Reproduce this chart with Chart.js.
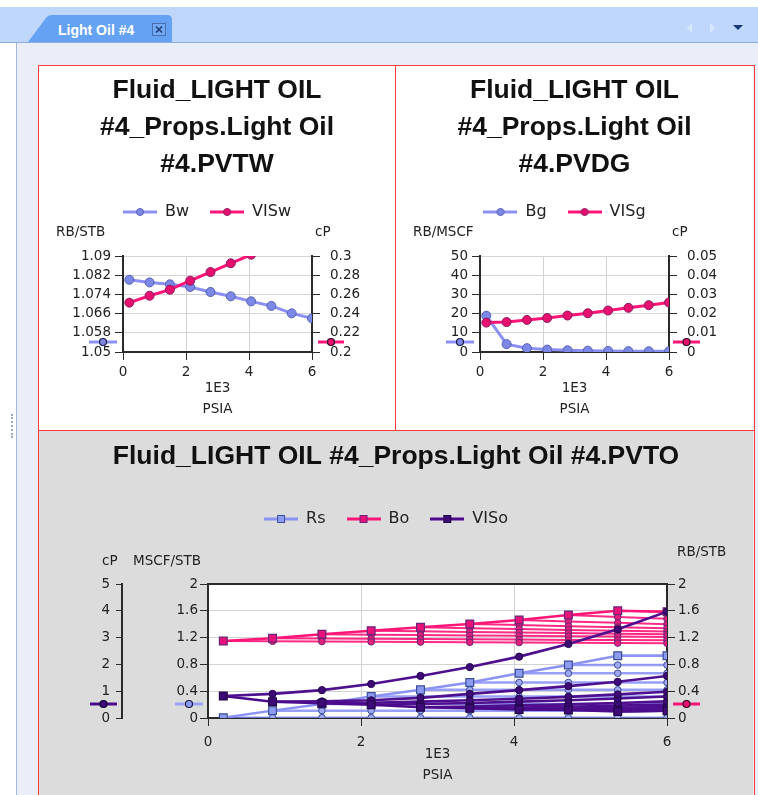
<!DOCTYPE html>
<html>
<head>
<meta charset="utf-8">
<title>Light Oil #4</title>
<script src="https://cdn.jsdelivr.net/npm/chart.js@4.4.1/dist/chart.umd.min.js"></script>
<style>
  html, body { margin: 0; padding: 0; }
  body { width: 758px; height: 795px; position: relative; overflow: hidden; background: #fff; font-family: "DejaVu Sans", sans-serif; }
  .abs { position: absolute; }
  #tabbar { left: 0; top: 7px; width: 758px; height: 35px; background: #bed7fb; border-bottom: 1px solid #8daee2; }
  #panel { left: 16px; top: 43px; width: 742px; height: 752px; background: #e9eef9; border-left: 1px solid #a6b8d8; }
  #grip { left: 11px; top: 414px; width: 0; height: 24px; border-left: 2px dotted #9aa8c0; }
  #frame { left: 38px; top: 65px; width: 715px; height: 740px; border: 1px solid #ff3b3b; }
  #vsep { left: 395px; top: 66px; width: 1px; height: 364px; background: #ff3b3b; }
  #hsep { left: 39px; top: 430px; width: 715px; height: 1px; background: #ff3b3b; }
  canvas { position: absolute; }
</style>
</head>
<body>
<div id="tabbar" class="abs"></div>
<svg class="abs" style="left:0;top:0" width="758" height="43">
  <path d="M28 42 L46 18 Q48 15 52 15 L167 15 Q172 15 172 20 L172 42 Z" fill="#66a2f4"/>
  <text x="58" y="35" font-family="Liberation Sans" font-weight="bold" font-size="14" fill="#fff">Light Oil #4</text>
  <rect x="152.5" y="23.5" width="13" height="12" fill="#73a9f4" stroke="#4a6fae"/>
  <path d="M156 26.5 L162 32.5 M162 26.5 L156 32.5" stroke="#1f3d75" stroke-width="1.6"/>
  <path d="M692 23 L687 28 L692 33 Z" fill="#d9e7fc"/>
  <path d="M710 23 L715 28 L710 33 Z" fill="#d9e7fc"/>
  <path d="M733 25 L743 25 L738 30 Z" fill="#17397a"/>
</svg>
<div id="panel" class="abs"></div>
<div id="grip" class="abs"></div>
<div id="frame" class="abs"></div>
<canvas id="pvtw" width="356" height="364" style="left:39px;top:66px;background:#fff"></canvas>
<div id="vsep" class="abs"></div>
<canvas id="pvdg" width="357" height="364" style="left:396px;top:66px;background:#fff"></canvas>
<div id="hsep" class="abs"></div>
<canvas id="pvto" width="714" height="364" style="left:39px;top:431px;background:#dcdcdc"></canvas>

<script>
// pressure, 1E3 PSIA
const pressure = [0.2, 0.844, 1.489, 2.133, 2.778, 3.422, 4.067, 4.711, 5.356, 6.0];
const xTicks = [0, 2, 4, 6];

// PVTW
const bw = [1.0801, 1.0790, 1.0782, 1.0771, 1.0750, 1.0732, 1.0711, 1.0692, 1.0661, 1.0640];
const visw = [0.2514, 0.2586, 0.2649, 0.2743, 0.2833, 0.2924, 0.3014, 0.3110, 0.3210, 0.3315];
const bwTicks = [1.05, 1.058, 1.066, 1.074, 1.082, 1.09];
const viswTicks = [0.2, 0.22, 0.24, 0.26, 0.28, 0.3];

// PVDG
const bg = [18.9, 4.1, 2.0, 1.25, 0.9, 0.7, 0.55, 0.45, 0.38, 0.33];
const visg = [0.0153, 0.0156, 0.0167, 0.0177, 0.0190, 0.0202, 0.0216, 0.0230, 0.0244, 0.0258];
const bgTicks = [0, 10, 20, 30, 40, 50];
const visgTicks = [0, 0.01, 0.02, 0.03, 0.04, 0.05];

// PVTO saturated curves (one point per pressure)
const rsSat = [0.005, 0.11, 0.21, 0.32, 0.42, 0.53, 0.667, 0.79, 0.93, 0.93];
const boSat = [1.149, 1.19, 1.249, 1.303, 1.354, 1.403, 1.463, 1.537, 1.60, 1.587];
const visoSat = [0.82, 0.61, 0.55, 0.49, 0.40, 0.36, 0.32, 0.30, 0.24, 0.27];

// PVTO undersaturated branches, branch i starts at pressure[i]
const rsUnder = [
  [0.005, 0.005, 0.005, 0.005, 0.005, 0.005, 0.005, 0.005, 0.005, 0.005],
  [0.11, 0.11, 0.11, 0.11, 0.11, 0.11, 0.11, 0.11, 0.11],
  [0.21, 0.21, 0.21, 0.21, 0.21, 0.21, 0.21, 0.21],
  [0.32, 0.32, 0.32, 0.32, 0.32, 0.32, 0.32],
  [0.42, 0.42, 0.42, 0.42, 0.42, 0.42],
  [0.53, 0.53, 0.53, 0.53, 0.53],
  [0.667, 0.667, 0.667, 0.667],
  [0.79, 0.79, 0.79],
  [0.93, 0.93]
];
const boUnder = [
  [1.149, 1.145, 1.141, 1.137, 1.133, 1.129, 1.126, 1.122, 1.118, 1.115],
  [1.190, 1.186, 1.182, 1.178, 1.174, 1.170, 1.166, 1.163, 1.160],
  [1.249, 1.243, 1.238, 1.232, 1.226, 1.221, 1.215, 1.210],
  [1.303, 1.294, 1.285, 1.276, 1.267, 1.258, 1.250],
  [1.354, 1.341, 1.328, 1.315, 1.302, 1.290],
  [1.403, 1.387, 1.371, 1.356, 1.340],
  [1.463, 1.442, 1.421, 1.400],
  [1.537, 1.508, 1.480],
  [1.600, 1.587]
];
const visoUnder = [
  [0.82, 0.90, 1.04, 1.27, 1.57, 1.90, 2.29, 2.76, 3.31, 3.97],
  [0.61, 0.62, 0.66, 0.75, 0.90, 1.04, 1.19, 1.35, 1.57],
  [0.55, 0.57, 0.61, 0.66, 0.72, 0.79, 0.88, 0.98],
  [0.49, 0.52, 0.56, 0.61, 0.66, 0.73, 0.80],
  [0.40, 0.43, 0.47, 0.51, 0.56, 0.62],
  [0.36, 0.39, 0.42, 0.46, 0.50],
  [0.32, 0.35, 0.38, 0.42],
  [0.30, 0.33, 0.36],
  [0.24, 0.27]
];
const cpTicks = [0, 1, 2, 3, 4, 5];
const rsTicks = [0, 0.4, 0.8, 1.2, 1.6, 2];
const boTicks = [0, 0.4, 0.8, 1.2, 1.6, 2];

// colours
const blueLine = '#8b91f4', blueFill = '#7d88e6', blueEdge = '#5561b5';
const pinkLine = '#ff1478', pinkFill = '#e8106e', pinkEdge = '#8a1a64';
const purpleLine = '#4b0b8c', purpleFill = '#3d0a78', purpleEdge = '#24064a';
const axisDark = '#2a2a2a';
const gridGray = '#d3d3d3';
const tickFont = { family: 'DejaVu Sans', size: 13.5 };
const titleFont = { family: 'Liberation Sans', size: 26.5, weight: 'bold', lineHeight: 37 / 26.5 };

const series = vals => vals.map((v, i) => ({ x: pressure[i], y: v }));
const branch = (vals, start) => vals.map((v, k) => ({ x: pressure[start + k], y: v }));
const fmt = v => String(+Number(v).toFixed(4));

function legendIcon(line, fill, edge, shape) {
  const c = document.createElement('canvas');
  c.width = 34; c.height = 10;
  const g = c.getContext('2d');
  g.strokeStyle = line; g.lineWidth = 3;
  g.beginPath(); g.moveTo(0, 5); g.lineTo(34, 5); g.stroke();
  g.fillStyle = fill; g.strokeStyle = edge; g.lineWidth = 1;
  if (shape === 'rect') {
    g.fillRect(13, 1, 8, 8); g.strokeRect(13.5, 1.5, 7, 7);
  } else {
    g.beginPath(); g.arc(17, 5, 3.5, 0, Math.PI * 2); g.fill(); g.stroke();
  }
  return c;
}

function legendOpts(icons) {
  return {
    display: true,
    labels: {
      usePointStyle: true, pointStyleWidth: 34, boxHeight: 10, padding: 21,
      font: { family: 'DejaVu Sans', size: 16 }, color: '#222',
      filter: item => item.text !== '',
      sort: (a, b) => a.datasetIndex - b.datasetIndex,
      generateLabels(chart) {
        return Chart.defaults.plugins.legend.labels.generateLabels(chart).map(it => {
          if (icons[it.text]) it.pointStyle = icons[it.text];
          return it;
        });
      }
    }
  };
}

function xScale(height, tickPad, titlePadBottom) {
  return {
    type: 'linear', position: 'bottom', min: 0, max: 6,
    afterBuildTicks: s => { s.ticks = xTicks.map(v => ({ value: v })); },
    afterFit: s => { s.height = height; },
    grid: { color: gridGray, tickColor: axisDark, tickLength: 8 },
    border: { color: axisDark, width: 2 },
    ticks: { font: tickFont, color: '#222', padding: tickPad, maxRotation: 0, autoSkip: false, callback: fmt },
    title: { display: true, text: ['1E3', 'PSIA'], color: '#222',
      font: { family: 'DejaVu Sans', size: 13.5, lineHeight: 21 / 13.5 },
      padding: { top: 0, bottom: titlePadBottom } }
  };
}

function yScale(position, values, width, tickLen, tickPad, onArea, weight) {
  return {
    type: 'linear', position, weight: weight || 0,
    min: values[0], max: values[values.length - 1],
    afterBuildTicks: s => { s.ticks = values.map(v => ({ value: v })); },
    afterFit: s => { s.width = width; },
    grid: { color: gridGray, tickColor: axisDark, tickLength: tickLen, drawOnChartArea: onArea },
    border: { color: axisDark, width: 2 },
    ticks: { font: tickFont, color: '#222', padding: tickPad, autoSkip: false, callback: fmt }
  };
}

// captions above axes, axis colour keys, legend spacing, plot background
const decor = {
  id: 'decor',
  beforeLayout(chart, args, o) {
    const lg = chart.legend;
    if (lg && !lg._gapPatched) {
      const fit = lg.fit;
      lg.fit = function () { fit.call(this); this.height += o.legendGap || 0; };
      lg._gapPatched = true;
    }
  },
  afterLayout(chart, args, o) {
    if (chart.legend) chart.legend.left -= o.legendShift || 0;
  },
  beforeDraw(chart, args, o) {
    if (!o.plotBg) return;
    const a = chart.chartArea, ctx = chart.ctx;
    ctx.save();
    ctx.fillStyle = o.plotBg;
    ctx.fillRect(a.left, a.top, a.right - a.left, a.bottom - a.top);
    ctx.restore();
  },
  afterDraw(chart, args, o) {
    const ctx = chart.ctx, area = chart.chartArea;
    ctx.save();
    if (o.topLine) {
      ctx.strokeStyle = o.topLine; ctx.lineWidth = 2;
      ctx.beginPath(); ctx.moveTo(area.left, area.top); ctx.lineTo(area.right, area.top); ctx.stroke();
    }
    ctx.font = '13.5px "DejaVu Sans"';
    ctx.fillStyle = '#222'; ctx.textBaseline = 'middle'; ctx.textAlign = 'left';
    (o.captions || []).forEach(c => {
      ctx.fillText(c.text, chart.scales[c.scale].left + c.dx, area.top + c.dy);
    });
    (o.markers || []).forEach(m => {
      const s = chart.scales[m.scale];
      const base = m.edge === 'right' ? s.right : s.left;
      const y = area.bottom + m.dy;
      ctx.strokeStyle = m.line; ctx.lineWidth = 3;
      ctx.beginPath(); ctx.moveTo(base + m.x0, y); ctx.lineTo(base + m.x1, y); ctx.stroke();
      ctx.beginPath(); ctx.arc(base + (m.x0 + m.x1) / 2, y, 3.5, 0, Math.PI * 2);
      ctx.fillStyle = m.fill; ctx.fill();
      ctx.lineWidth = 1.2; ctx.strokeStyle = m.edgeColor; ctx.stroke();
    });
    ctx.restore();
  }
};

function lineSet(label, data, axis, line, fill, edge, order) {
  return { label, data, yAxisID: axis, borderColor: line, backgroundColor: fill, borderWidth: 3,
    pointRadius: 4.5, pointBackgroundColor: fill, pointBorderColor: edge, pointBorderWidth: 1,
    tension: 0, order };
}

const leftCaption = { pvtw: 'RB/STB', pvdg: 'RB/MSCF' };

function topChart(id, title, lbls, leftVals, rightVals, leftData, rightData, rightMarkerX) {
  const icons = {};
  icons[lbls[0]] = legendIcon(blueLine, blueFill, blueEdge, 'circle');
  icons[lbls[1]] = legendIcon(pinkLine, pinkFill, pinkEdge, 'circle');
  const w = document.getElementById(id).width;
  return new Chart(document.getElementById(id), {
    type: 'line',
    data: {
      datasets: [
        lineSet(lbls[0], series(leftData), 'y', blueLine, blueFill, blueEdge, 2),
        lineSet(lbls[1], series(rightData), 'y1', pinkLine, pinkFill, pinkEdge, 1)
      ]
    },
    options: {
      responsive: false, animation: false, devicePixelRatio: 1, events: [],
      layout: { padding: 0 },
      scales: {
        x: xScale(78, 4, 10.5),
        y: yScale('left', leftVals, 84, 8, 4, true),
        y1: yScale('right', rightVals, w - 273, 8, 10, false)
      },
      plugins: {
        title: { display: true, text: title, font: titleFont, color: '#111', padding: { top: 6, bottom: 0 } },
        legend: legendOpts(icons),
        tooltip: { enabled: false },
        decor: {
          legendGap: 26, legendShift: 20,
          captions: [
            { scale: 'y', text: leftCaption[id], dx: 17, dy: -24 },
            { scale: 'y1', text: 'cP', dx: 3, dy: -24 }
          ],
          markers: [
            { scale: 'y', edge: 'right', x0: -34, x1: -6, dy: -10, line: blueLine, fill: blueFill, edgeColor: '#1a1a40' },
            { scale: 'y1', edge: 'left', x0: rightMarkerX[0], x1: rightMarkerX[1], dy: -10, line: pinkLine, fill: pinkFill, edgeColor: '#2a0a20' }
          ]
        }
      }
    },
    plugins: [decor]
  });
}

topChart('pvtw', ['Fluid_LIGHT OIL', '#4_Props.Light Oil', '#4.PVTW'], ['Bw', 'VISw'],
  bwTicks, viswTicks, bw, visw, [6, 32]);
topChart('pvdg', ['Fluid_LIGHT OIL', '#4_Props.Light Oil', '#4.PVDG'], ['Bg', 'VISg'],
  bgTicks, visgTicks, bg, visg, [4, 31]);

// PVTO
const pvtoSets = [];
function addProperty(label, sat, under, axis, st, baseOrder) {
  pvtoSets.push({ label, data: series(sat), yAxisID: axis, borderColor: st.satLine, borderWidth: 2.5,
    pointStyle: 'rect', pointRadius: 5.5, pointBackgroundColor: st.satFill, pointBorderColor: st.edge,
    pointBorderWidth: 1.2, tension: 0, order: baseOrder });
  under.forEach((vals, i) => {
    pvtoSets.push({ label: '', data: branch(vals, i), yAxisID: axis, borderColor: st.line, borderWidth: st.width,
      pointStyle: 'circle', pointRadius: st.radius, pointBackgroundColor: st.fill, pointBorderColor: st.edge,
      pointBorderWidth: 1, tension: 0, order: baseOrder + 1 });
  });
}
addProperty('Rs', rsSat, rsUnder, 'yr',
  { satLine: '#8a92f4', line: 'rgba(125,135,245,0.8)', satFill: '#8d9cf0', fill: '#9ea8f3', edge: '#3a4d98', width: 2.5, radius: 3.3 }, 5);
addProperty('Bo', boSat, boUnder, 'yb',
  { satLine: pinkLine, line: '#ff2a85', satFill: '#e8127a', fill: '#e5207a', edge: '#6a2478', width: 2, radius: 3.3 }, 3);
addProperty('VISo', visoSat, visoUnder, 'yc',
  { satLine: purpleLine, line: '#4e108e', satFill: purpleFill, fill: purpleFill, edge: purpleEdge, width: 2.6, radius: 3.6 }, 1);

new Chart(document.getElementById('pvto'), {
  type: 'line',
  data: { datasets: pvtoSets },
  options: {
    responsive: false, animation: false, devicePixelRatio: 1, events: [],
    layout: { padding: 0 },
    scales: {
      x: xScale(77, 8, 9),
      yc: yScale('left', cpTicks, 83, 6, 6, false, 10),
      yr: yScale('left', rsTicks, 86, 8, 2, true, 1),
      yb: yScale('right', boTicks, 86, 8, 3, false)
    },
    plugins: {
      title: { display: true, text: 'Fluid_LIGHT OIL #4_Props.Light Oil #4.PVTO', font: titleFont, color: '#111',
        padding: { top: 7, bottom: 15 } },
      legend: legendOpts({
        Rs: legendIcon('#8a92f4', '#8d9cf0', '#3a4d98', 'rect'),
        Bo: legendIcon(pinkLine, '#e8127a', '#6a2478', 'rect'),
        VISo: legendIcon(purpleLine, purpleFill, purpleEdge, 'rect')
      }),
      tooltip: { enabled: false },
      decor: {
        legendGap: 47, legendShift: 20, plotBg: '#ffffff', topLine: axisDark,
        captions: [
          { scale: 'yc', text: 'cP', dx: 63, dy: -23 },
          { scale: 'yr', text: 'MSCF/STB', dx: 11, dy: -23 },
          { scale: 'yb', text: 'RB/STB', dx: 10, dy: -32 }
        ],
        markers: [
          { scale: 'yc', edge: 'right', x0: -32, x1: -5, dy: -14, line: purpleLine, fill: purpleFill, edgeColor: '#12002a' },
          { scale: 'yr', edge: 'right', x0: -33, x1: -5, dy: -14, line: '#9aa2f6', fill: '#8d9cf0', edgeColor: '#1a1a40' },
          { scale: 'yb', edge: 'left', x0: 6, x1: 33, dy: -14, line: pinkLine, fill: pinkFill, edgeColor: '#2a0a20' }
        ]
      }
    }
  },
  plugins: [decor]
});
</script>
</body>
</html>
